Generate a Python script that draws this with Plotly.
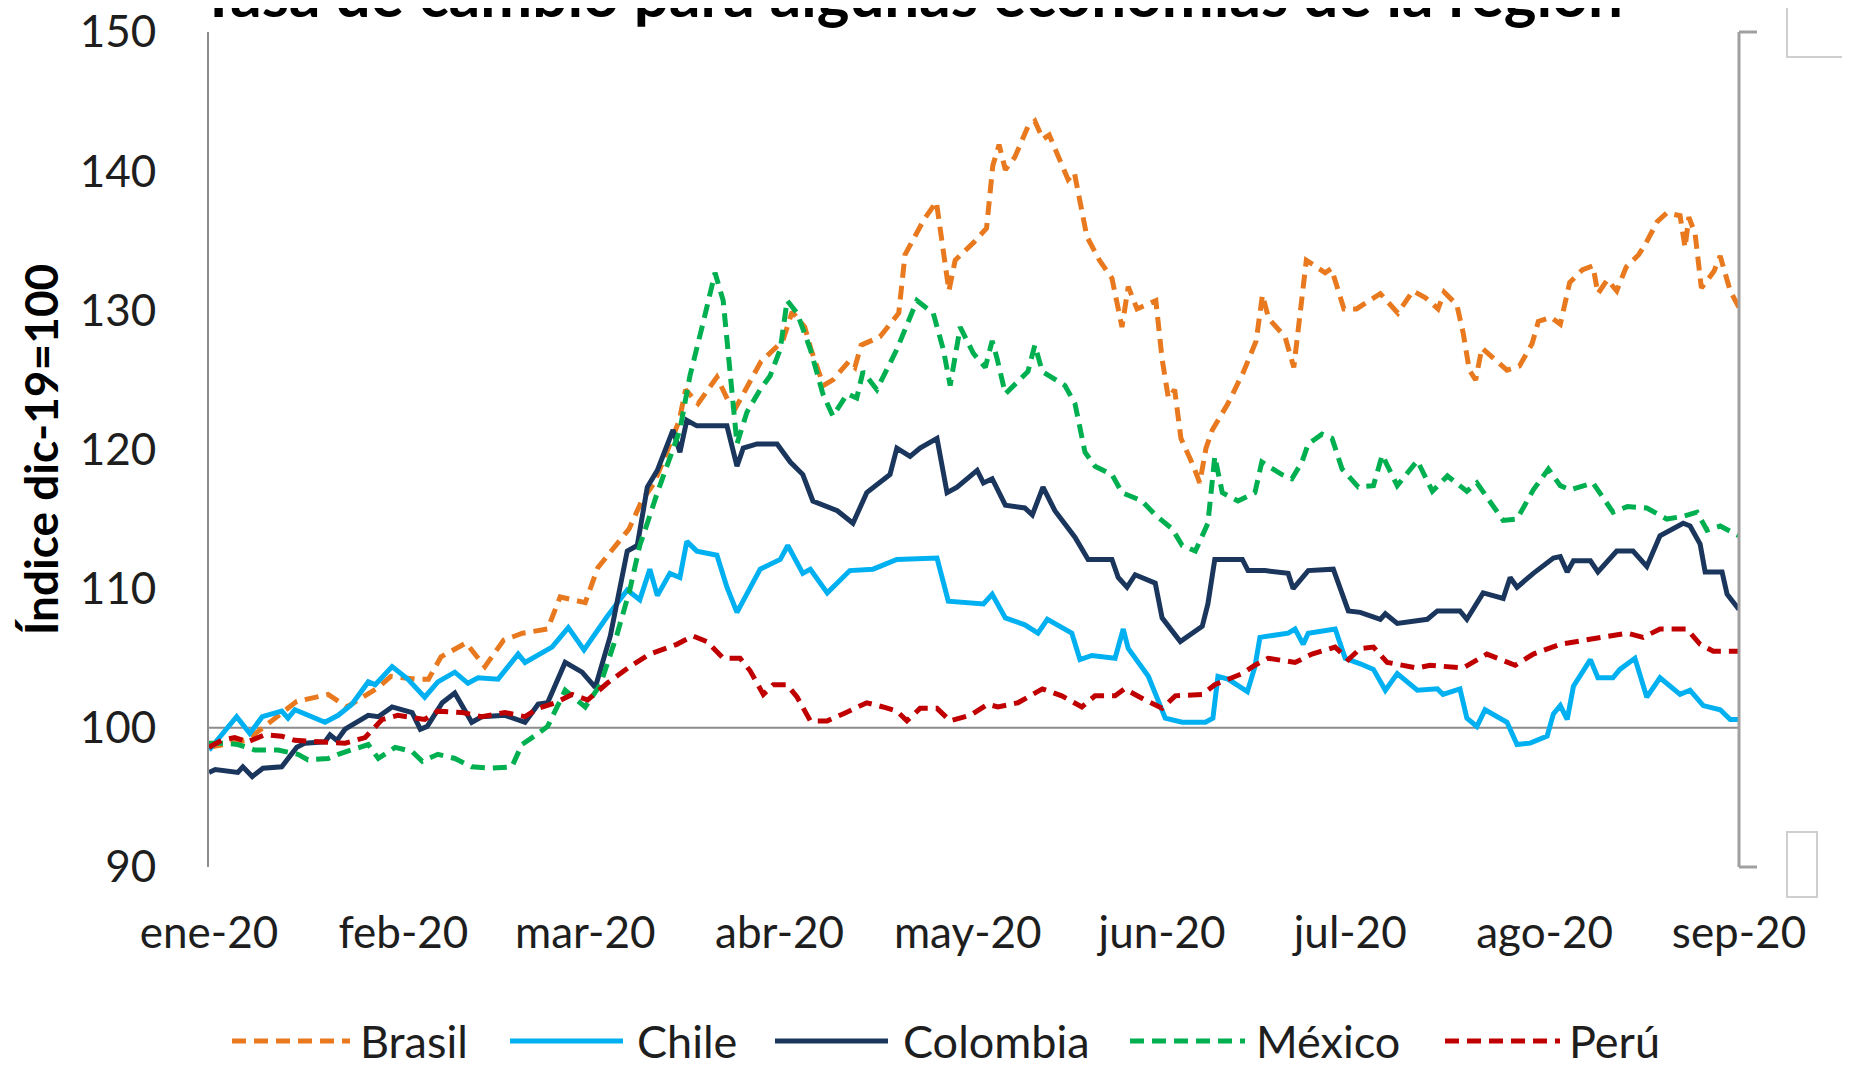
import pandas as pd
import plotly.graph_objects as go

# ---------------- data (days since 2020-01-01, index dic-19 = 100) ----------------
brasil_t = [0, 6, 10, 14, 19, 22, 27, 29, 33, 35, 37, 41, 44, 47, 50, 54, 56, 60, 62, 65, 67, 69, 71, 73, 75, 76,
            78, 81, 83, 84, 86, 88, 91.5, 93, 95, 96, 98, 99.5, 102, 103, 104, 107, 110, 111, 114, 116, 117, 118,
            119, 122, 124, 125, 126, 127, 128.5, 130.6, 131.7, 133, 134, 136, 137, 138, 139, 140, 142, 144, 145.6,
            146.6, 148, 151, 152, 153, 154, 155, 157, 158, 159, 160, 162.5, 165, 167, 168, 169, 171.6, 173, 174,
            175, 178, 179, 181, 183, 186.8, 189.6, 192, 194, 196, 197, 199, 200, 201, 202, 203, 205, 207, 209,
            211, 212, 214, 215.5, 217, 219, 220.7, 221.5, 223, 224.5, 226, 228, 229, 231, 232.5, 234.6, 235.4,
            236, 237, 238, 240, 241, 242.6, 244]
brasil = [98.6, 99.1, 100.5, 101.9, 102.4, 101.5, 102.9, 103.7, 103.5, 103.5, 105.1, 106.1, 104.4, 106.3, 106.8,
          107.1, 109.4, 109.0, 111.5, 113.1, 114.3, 116.3, 117.6, 119.8, 122.1, 124.3, 123.3, 125.2, 123.3, 123.0,
          124.6, 126.3, 127.8, 129.9, 128.8, 127.2, 124.6, 125.0, 126.3, 125.9, 127.5, 128.1, 129.8, 134.0, 136.5,
          137.8, 134.6, 131.4, 133.6, 134.9, 135.9, 140.4, 141.9, 140.1, 141.0, 143.2, 143.6, 142.3, 142.6, 140.4,
          139.4, 139.9, 137.8, 135.3, 133.6, 132.3, 128.8, 131.7, 130.1, 130.7, 126.5, 123.7, 124.3, 120.8, 118.8,
          117.6, 120.1, 121.4, 123.3, 125.6, 127.8, 131.1, 129.4, 128.1, 125.9, 130.1, 133.6, 132.7, 133.0, 130.1,
          130.1, 131.2, 129.8, 131.4, 130.9, 130.1, 131.3, 130.4, 128.4, 125.7, 125.0, 127.3, 126.5, 125.7, 126.0,
          127.6, 129.2, 129.5, 129.0, 132.0, 132.9, 133.2, 131.2, 132.2, 131.4, 133.1, 134.0, 134.7, 136.4, 137.0,
          136.8, 134.5, 136.7, 135.5, 131.6, 132.8, 133.9, 131.4, 130.2]

chile_t = [0, 4.4, 6.5, 8.5, 11.6, 12.6, 13.7, 18.5, 20.6, 22.8, 25.4, 26.5, 29.2, 31.7, 34.4, 36.5, 39.2, 41.3,
           42.9, 46.1, 49.3, 50.4, 54.7, 57.3, 59.8, 63.5, 66.7, 68.7, 70.3, 71.5, 73.5, 75.1, 76.2, 77.8, 81,
           82.6, 84.2, 87.9, 91.1, 92.3, 94.7, 95.9, 98.6, 102.2, 105.9, 109.7, 116.1, 117.9, 123.5, 124.9, 127,
           130.1, 132.2, 133.7, 137.6, 138.9, 140.8, 144.5, 145.8, 146.6, 149.8, 151.4, 152.5, 155.2, 158.9, 160.1,
           160.9, 162.5, 165.6, 166.8, 167.6, 172.1, 173.2, 174.5, 175.3, 179.6, 181.2, 183.6, 185.7, 187.6, 189.5,
           192.7, 195.9, 196.8, 199.5, 200.6, 202.2, 203.5, 207, 208.6, 210.7, 213.4, 214.4, 215.5, 216.6, 217.6,
           220.3, 221.5, 223.9, 225, 227.4, 229.3, 231.4, 234.6, 236.2, 238.3, 241, 242.6, 244]
chile = [98.4, 100.8, 99.6, 100.8, 101.2, 100.7, 101.3, 100.4, 100.9, 101.7, 103.3, 103.1, 104.4, 103.5, 102.2,
         103.3, 104.0, 103.2, 103.6, 103.5, 105.3, 104.7, 105.8, 107.2, 105.6, 108.0, 109.9, 109.2, 111.4, 109.5,
         111.1, 110.8, 113.4, 112.7, 112.4, 110.1, 108.3, 111.4, 112.1, 113.1, 111.1, 111.4, 109.7, 111.3, 111.4,
         112.1, 112.2, 109.1, 108.9, 109.6, 107.9, 107.4, 106.8, 107.8, 106.8, 104.9, 105.2, 105.0, 107.1, 105.7,
         103.7, 101.8, 100.7, 100.4, 100.4, 100.7, 103.7, 103.5, 102.6, 104.4, 106.5, 106.8, 107.1, 106.0, 106.8,
         107.1, 105.0, 104.6, 104.2, 102.7, 103.9, 102.7, 102.8, 102.4, 102.8, 100.7, 100.1, 101.3, 100.4, 98.8,
         98.9, 99.4, 101.0, 101.6, 100.6, 103.0, 104.9, 103.6, 103.6, 104.2, 105.0, 102.2, 103.6, 102.4, 102.7,
         101.6, 101.3, 100.6, 100.6]

colombia_t = [0, 1, 4.6, 5.4, 6.9, 8.6, 11.6, 14, 15.3, 18.5, 19.3, 20.4, 21.7, 25.4, 27, 29.2, 32.4, 33.7, 34.8,
              37.2, 39.2, 41.9, 43.5, 47.2, 50.4, 52.5, 54, 56.8, 59.5, 61.6, 64, 66.7, 68.3, 69.9, 71.5, 74, 75.1,
              76.2, 77.8, 82.6, 84.2, 85.2, 87.4, 90.6, 92.7, 94.7, 96.3, 97.9, 100.2, 102.7, 104.9, 108.6, 109.7,
              111.8, 113.4, 116.1, 117.7, 119.3, 122.5, 123.5, 124.9, 127, 130.1, 131.3, 133, 134.9, 138.1, 140.2,
              144, 145, 146.4, 147.7, 150.9, 152, 154.9, 158.4, 159.3, 160.4, 164.8, 165.7, 168.4, 172.1, 172.9,
              175.3, 179.3, 181.7, 183.6, 186.8, 187.6, 189.5, 194.3, 195.9, 199.5, 200.6, 203.2, 206.4, 207.5,
              208.6, 211.2, 214.4, 215.5, 216.6, 217.6, 220.3, 221.5, 224.5, 227.1, 229.3, 231.4, 235.1, 236.2,
              237.8, 238.6, 241.3, 242.1, 244]
colombia = [96.8, 97.0, 96.8, 97.2, 96.5, 97.1, 97.2, 98.6, 98.9, 99.0, 99.5, 99.1, 99.9, 100.9, 100.8, 101.5,
            101.1, 99.9, 100.1, 101.8, 102.5, 100.4, 100.8, 100.9, 100.4, 101.7, 101.8, 104.7, 104.0, 102.9, 106.6,
            112.7, 113.1, 117.3, 118.5, 121.4, 119.8, 122.1, 121.7, 121.7, 118.8, 120.1, 120.4, 120.4, 119.1, 118.2,
            116.3, 116.0, 115.6, 114.7, 116.9, 118.2, 120.1, 119.5, 120.1, 120.8, 116.9, 117.3, 118.5, 117.6, 117.9,
            116.0, 115.8, 115.3, 117.3, 115.6, 113.7, 112.1, 112.1, 110.8, 110.1, 111.0, 110.4, 107.9, 106.2, 107.3,
            108.9, 112.1, 112.1, 111.3, 111.3, 111.1, 110.0, 111.3, 111.4, 108.4, 108.3, 107.8, 108.2, 107.5, 107.8,
            108.4, 108.4, 107.8, 109.7, 109.3, 110.8, 110.1, 111.1, 112.2, 112.3, 111.2, 112.0, 112.0, 111.2, 112.7,
            112.7, 111.6, 113.8, 114.7, 114.5, 113.2, 111.2, 111.2, 109.6, 108.5]

mexico_t = [0, 2.6, 4.6, 7.3, 11, 14.2, 15.8, 19, 20.6, 22.8, 25.4, 27, 29.7, 32.4, 34, 36.5, 39.2, 41.9, 45.1,
            48.3, 49.9, 52.5, 54, 56.8, 60, 62.4, 65, 67.1, 68.7, 69.9, 71.5, 75.1, 76.7, 78.8, 80.7, 82, 83.1,
            84.2, 85.8, 87.9, 89.5, 91.1, 92.2, 93.8, 95.9, 97.9, 99.5, 101.8, 103.3, 104.3, 106.5, 109.7, 112.9,
            115.5, 117.1, 118.2, 119.8, 121.9, 123.8, 124.9, 125.7, 127, 130.6, 131.7, 132.9, 136.5, 138.1, 139.7,
            141.3, 144, 145.6, 148.8, 150.9, 153.6, 155.2, 157.3, 159.3, 160.4, 161.6, 164.1, 166.8, 167.9, 171.1,
            172.7, 174.3, 175.3, 177.5, 179.1, 180.7, 183.3, 185.7, 187.1, 189.5, 192.7, 195.1, 197.5, 200.6,
            202.2, 206.4, 208.6, 211.2, 213.6, 215.5, 217.1, 220.7, 223.9, 226.2, 229.3, 232.5, 235.1, 237.3,
            238.9, 241, 244]
mexico = [98.9, 98.9, 98.8, 98.4, 98.4, 98.1, 97.7, 97.8, 98.1, 98.4, 98.8, 97.8, 98.6, 98.3, 97.6, 98.1, 97.8,
          97.2, 97.1, 97.2, 98.8, 99.6, 100.1, 102.7, 101.5, 103.1, 106.6, 109.9, 113.1, 114.7, 116.9, 121.4, 125.3,
          129.1, 132.7, 130.7, 125.3, 120.4, 122.7, 124.3, 125.3, 127.2, 130.7, 129.8, 127.2, 124.0, 122.4, 124.0,
          123.7, 125.6, 124.3, 127.2, 130.7, 129.8, 127.2, 124.6, 128.8, 126.9, 125.9, 127.8, 126.5, 124.0, 125.6,
          127.5, 125.6, 124.6, 123.3, 119.8, 118.8, 118.2, 116.9, 116.3, 115.3, 114.3, 113.1, 112.7, 114.7, 119.5,
          116.9, 116.3, 116.9, 119.1, 118.2, 117.9, 119.1, 120.4, 121.1, 120.8, 118.6, 117.3, 117.4, 119.6, 117.4,
          119.2, 117.0, 118.1, 117.0, 117.6, 114.9, 115.0, 117.1, 118.6, 117.4, 117.1, 117.6, 115.5, 115.9, 115.8,
          115.0, 115.2, 115.5, 114.2, 114.5, 113.8]

peru_t = [0, 2, 4.1, 6.2, 8.9, 11.6, 13.7, 17.4, 19.6, 21.7, 24.9, 27.6, 30.1, 32.4, 34.4, 36.5, 40.4, 43.5, 47.2,
          50.4, 52.5, 55.2, 57.9, 60.4, 63.5, 67.1, 70.3, 74.6, 77.2, 79.4, 82, 84.7, 86.3, 88.4, 90, 92.2, 93.8,
          95.9, 98.6, 101.1, 104.9, 107.5, 109.7, 111.3, 113.4, 116.1, 118.2, 121.4, 124.2, 125.8, 129, 132.9,
          136, 139.2, 141.3, 144.5, 146, 149.3, 152, 154.1, 158.4, 160.4, 164.8, 166.8, 168.9, 173.2, 175.9,
          179.6, 181.7, 183.6, 185.7, 187.9, 192.7, 194.7, 200, 203.8, 208.3, 211.2, 215.5, 220.7, 226.2, 228.7,
          231.4, 235.7, 237.8, 239.9, 244]
peru = [98.6, 99.1, 99.3, 99.0, 99.5, 99.4, 99.1, 99.0, 99.0, 98.9, 99.3, 100.6, 100.9, 100.7, 100.6, 101.2, 101.1,
        100.8, 101.1, 100.8, 101.4, 101.8, 102.4, 102.0, 103.2, 104.4, 105.3, 106.0, 106.6, 106.2, 105.0, 105.0,
        104.1, 102.4, 103.1, 103.1, 102.2, 100.5, 100.5, 101.0, 101.8, 101.5, 101.2, 100.5, 101.4, 101.4, 100.5,
        100.9, 101.7, 101.5, 101.8, 102.8, 102.3, 101.5, 102.3, 102.3, 102.8, 102.0, 101.4, 102.3, 102.4, 103.1,
        103.9, 104.5, 105.0, 104.7, 105.3, 105.8, 104.9, 105.7, 105.8, 104.7, 104.3, 104.5, 104.3, 105.3, 104.5,
        105.3, 106.0, 106.4, 106.8, 106.5, 107.1, 107.1, 106.0, 105.5, 105.5]

tick_dates = ["2020-01-01", "2020-02-01", "2020-03-01", "2020-04-01", "2020-05-01",
              "2020-06-01", "2020-07-01", "2020-08-01", "2020-09-01"]
tick_labels = ["ene-20", "feb-20", "mar-20", "abr-20", "may-20", "jun-20", "jul-20", "ago-20", "sep-20"]
y_ticks = [90, 100, 110, 120, 130, 140, 150]

series_names = ["Brasil", "Chile", "Colombia", "México", "Perú"]
series_colors = ["#E8791E", "#00B0F0", "#1B365D", "#00B050", "#C00000"]
series_dash = ["14px,8px", "solid", "solid", "14px,8px", "14px,8px"]

# ---------------- figure ----------------
OFF = 8                       # default page margin around the plot div
W, H = 1850 - OFF, 1067 - OFF
L, T = 209 - OFF, 32 - OFF
PW, PH = 1530, 835
R, B = W - L - PW, H - T - PH
FONT = "Lato, 'Open Sans', sans-serif"
TXT = "#1E1E1E"


def to_dates(days):
    return pd.Timestamp("2020-01-01") + pd.to_timedelta(days, unit="D")


def px_x(page_x):
    return (page_x - OFF - L) / PW


def px_y(page_y):
    return (H - B - (page_y - OFF)) / PH


fig = go.Figure()
all_t = [brasil_t, chile_t, colombia_t, mexico_t, peru_t]
all_v = [brasil, chile, colombia, mexico, peru]
for name, t, v, col, dash in zip(series_names, all_t, all_v, series_colors, series_dash):
    fig.add_trace(go.Scatter(x=to_dates(t), y=v, mode="lines", name=name,
                             line=dict(color=col, width=5, dash=dash), showlegend=False))

shapes = []
# horizontal reference line at 100 (category axis crossing)
shapes.append(dict(type="line", xref="paper", yref="y", x0=0, x1=1, y0=100, y1=100,
                   line=dict(color="#8C8C8C", width=2), layer="below"))
# right bracket (empty secondary axis)
shapes.append(dict(type="line", xref="paper", yref="paper", x0=1, x1=1, y0=0, y1=1,
                   line=dict(color="#A0A0A0", width=3)))
shapes.append(dict(type="line", xref="paper", yref="paper", x0=1, x1=px_x(1757), y0=1, y1=1,
                   line=dict(color="#A0A0A0", width=3)))
shapes.append(dict(type="line", xref="paper", yref="paper", x0=1, x1=px_x(1757), y0=0, y1=0,
                   line=dict(color="#A0A0A0", width=3)))
# selection-handle boxes
shapes.append(dict(type="rect", xref="paper", yref="paper", x0=px_x(1787), x1=px_x(1860),
                   y0=px_y(57), y1=px_y(-5), line=dict(color="#CFCFCF", width=2), fillcolor="white"))
shapes.append(dict(type="rect", xref="paper", yref="paper", x0=px_x(1787), x1=px_x(1817),
                   y0=px_y(897), y1=px_y(832), line=dict(color="#CFCFCF", width=2), fillcolor="white"))

# manual legend (long samples as in the original)
annotations = []
leg_y = px_y(1041)
leg_items = [(232, 350, 358), (510, 623, 635), (775, 888, 901), (1130, 1245, 1254), (1445, 1560, 1567)]
for (x0, x1, xt), name, col, dash in zip(leg_items, series_names, series_colors, series_dash):
    shapes.append(dict(type="line", xref="paper", yref="paper", x0=px_x(x0), x1=px_x(x1), y0=leg_y, y1=leg_y,
                       line=dict(color=col, width=5, dash=dash)))
    annotations.append(dict(text=name, xref="paper", yref="paper", x=px_x(xt), y=leg_y, xanchor="left",
                            yanchor="middle", showarrow=False, font=dict(family=FONT, size=45, color=TXT)))

# title (partly cut off at top, as in the original)
annotations.append(dict(text="<b>Tasa de cambio para algunas economías de la región</b>", xref="paper",
                        yref="paper", x=px_x(911), y=px_y(32), xanchor="center", yanchor="bottom",
                        showarrow=False, font=dict(family=FONT, size=62, color="#000000")))

fig.update_layout(
    width=W, height=H,
    margin=dict(l=L, r=R, t=T, b=B, autoexpand=False),
    paper_bgcolor="white", plot_bgcolor="white",
    font=dict(family=FONT, color=TXT, size=44),
    showlegend=False,
    shapes=shapes, annotations=annotations,
    xaxis=dict(type="date", range=[to_dates(0), to_dates(244)], tickvals=tick_dates, ticktext=tick_labels,
               showgrid=False, zeroline=False, showline=False, ticks="", ticklabelstandoff=36,
               ticklabeloverflow="allow", tickfont=dict(family=FONT, size=44, color=TXT)),
    yaxis=dict(range=[90, 150], tickvals=y_ticks, showgrid=False, zeroline=False, showline=True,
               linecolor="#8C8C8C", linewidth=2, ticks="", ticklabelstandoff=42,
               ticklabeloverflow="allow", tickfont=dict(family=FONT, size=44, color=TXT),
               title=dict(text="<b>Índice dic-19=100</b>", font=dict(family=FONT, size=46, color="#000000"),
                          standoff=7)),
)

fig.write_html("out.html")
